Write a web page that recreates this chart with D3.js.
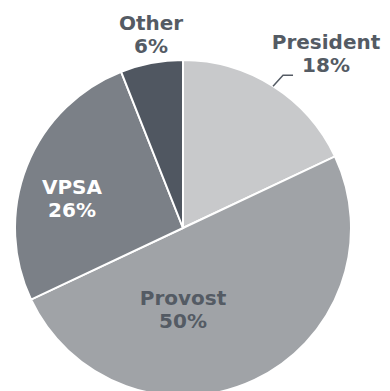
<!DOCTYPE html>
<html>
<head>
<meta charset="utf-8">
<script src="https://cdn.jsdelivr.net/npm/d3@7"></script>
<style>
  html, body { margin: 0; padding: 0; background: #fff; }
  svg { display: block; }
  text { font-family: "DejaVu Sans", Verdana, sans-serif; font-weight: bold; font-size: 20px; }
</style>
</head>
<body>
<svg id="chart" width="390" height="391"></svg>
<script>
// Share of items by office
const categories = ["President", "Provost", "VPSA", "Other"];
const values = [18, 50, 26, 6];
const colors = ["#c8c9cb", "#a0a3a7", "#7b8087", "#505761"];
const labelColors = ["#545b64", "#545b64", "#ffffff", "#545b64"];

const cx = 183, cy = 228, radius = 168;

const svg = d3.select("#chart");
const g = svg.append("g").attr("transform", `translate(${cx},${cy})`);

const data = categories.map((c, i) => ({ name: c, value: values[i], color: colors[i], label: labelColors[i] }));

const pie = d3.pie().value(d => d.value).sort(null);
const arcs = pie(data);
const arc = d3.arc().innerRadius(0).outerRadius(radius);

g.selectAll("path.slice")
  .data(arcs)
  .join("path")
  .attr("class", "slice")
  .attr("d", arc)
  .attr("fill", d => d.data.color)
  .attr("stroke", "#fff")
  .attr("stroke-width", 2);

// Label anchor (first-line baseline) relative to the pie centre
const labelAt = {
  President: [143, -179],
  Provost: [0, 77],
  VPSA: [-111, -34],
  Other: [-32, -198]
};

function polar(angle, r) {
  return [Math.sin(angle) * r, -Math.cos(angle) * r];
}

const pctFmt = d => `${d}%`;

arcs.forEach(a => {
  const name = a.data.name;
  if (name === "President") {
    // short leader line from the slice edge to the label
    const edgeAngle = a.startAngle + (a.endAngle - a.startAngle) * 0.5;
    const [ex, ey] = polar(edgeAngle, radius);
    const bend = [ex + 10, ey - 11];
    const end = [bend[0] + 10, bend[1]];
    g.append("path")
      .attr("d", d3.line()([[ex, ey], bend, end]))
      .attr("fill", "none")
      .attr("stroke", "#545b64")
      .attr("stroke-width", 1.5);
  }
  const [x, y] = labelAt[name];
  const t = g.append("text")
    .attr("text-anchor", "middle")
    .attr("fill", a.data.label);
  t.append("tspan").attr("x", x).attr("y", y).text(name);
  t.append("tspan").attr("x", x).attr("y", y + 23).text(pctFmt(a.data.value));
});
</script>
</body>
</html>
